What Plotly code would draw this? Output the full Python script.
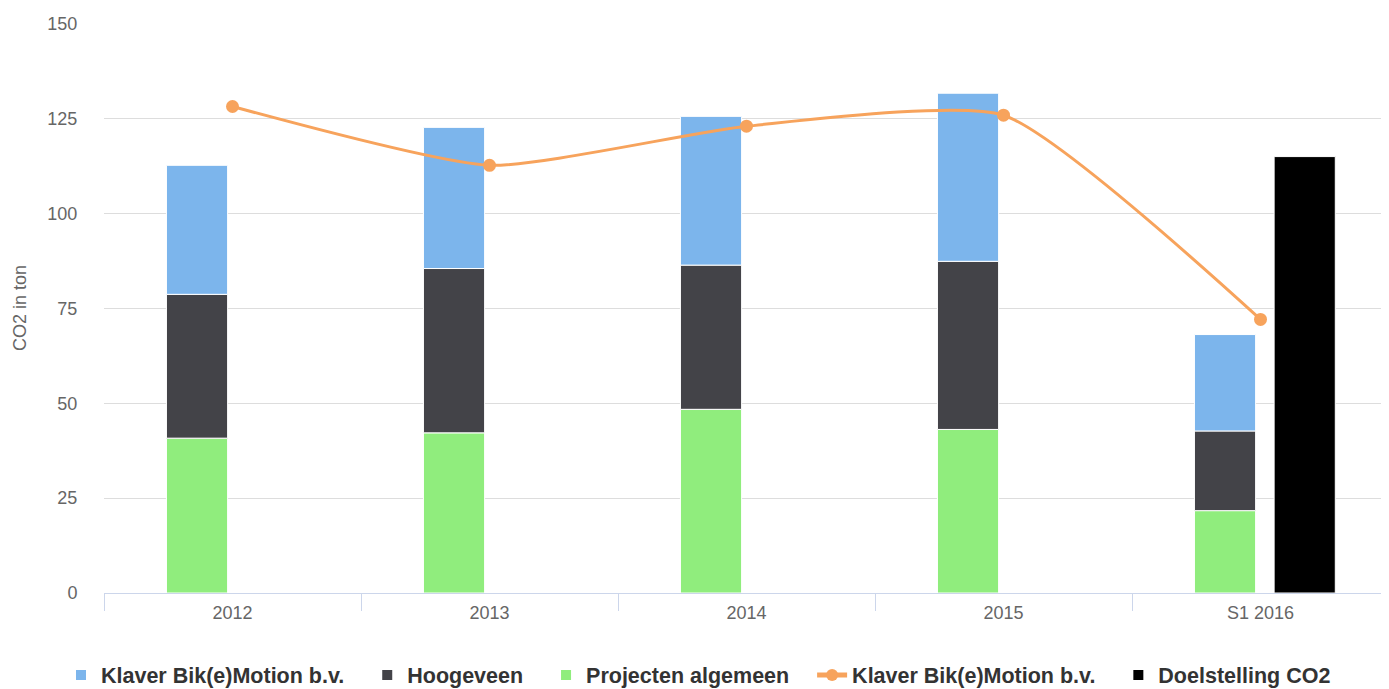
import plotly.graph_objects as go

categories = ["2012", "2013", "2014", "2015", "S1 2016"]
klaver = [34.0, 37.2, 39.2, 44.3, 25.4]
hoogeveen = [37.9, 43.3, 38.0, 44.3, 21.0]
projecten = [40.8, 42.2, 48.4, 43.1, 21.7]
klaver_line = [128.2, 112.7, 123.0, 125.9, 72.1]
doelstelling = [None, None, None, None, 115.0]

C_BLUE = "#7cb5ec"
C_DARK = "#434348"
C_GREEN = "#90ed7d"
C_ORANGE = "#f7a35c"
C_BLACK = "#000000"

FONT = "Liberation Sans, Arial, Helvetica, sans-serif"
PAD = "\u00a0" * 3

bar_w = 0.238
stack_off = -0.257
doel_off = 0.053

fig = go.Figure()

fig.add_trace(go.Bar(x=categories, y=projecten, name="Projecten algemeen" + PAD,
                     marker=dict(color=C_GREEN, line=dict(color="#ffffff", width=1)),
                     width=bar_w, offset=stack_off, legendrank=3))
fig.add_trace(go.Bar(x=categories, y=hoogeveen, name="Hoogeveen" + PAD,
                     marker=dict(color=C_DARK, line=dict(color="#ffffff", width=1)),
                     width=bar_w, offset=stack_off, legendrank=2))
fig.add_trace(go.Bar(x=categories, y=klaver, name="Klaver Bik(e)Motion b.v." + PAD,
                     marker=dict(color=C_BLUE, line=dict(color="#ffffff", width=1)),
                     width=bar_w, offset=stack_off, legendrank=1))
fig.add_trace(go.Bar(x=categories, y=doelstelling, name="Doelstelling CO2",
                     marker=dict(color=C_BLACK, line=dict(color="#ffffff", width=1)),
                     width=bar_w, offset=doel_off, xaxis="x2", legendrank=5))
fig.add_trace(go.Scatter(x=categories, y=klaver_line, name="Klaver Bik(e)Motion b.v." + PAD,
                         mode="lines+markers",
                         line=dict(color=C_ORANGE, width=3, shape="spline", smoothing=0.55),
                         marker=dict(color=C_ORANGE, size=13, symbol="circle"),
                         legendrank=4))

fig.update_layout(
    width=1381, height=681,
    barmode="relative",
    paper_bgcolor="#ffffff", plot_bgcolor="#ffffff",
    margin=dict(l=96, r=0, t=15, b=96, autoexpand=False),
    font=dict(family=FONT, size=18, color="#666666"),
    showlegend=True,
    legend=dict(orientation="h", xref="container", x=0.5, xanchor="center",
                y=-0.108, yanchor="top",
                font=dict(family=FONT, size=21.5, color="#333333", weight="bold"),
                traceorder="normal", itemwidth=30, itemsizing="constant"),
    xaxis=dict(type="category", categoryorder="array", categoryarray=categories,
               range=[-0.5, 4.5], showgrid=False, showline=True, linecolor="#ccd6eb",
               linewidth=1, ticks="outside", tickson="boundaries", ticklen=17,
               tickcolor="#ccd6eb", tickfont=dict(size=18, color="#666666"),
               ticklabelstandoff=3, zeroline=False, automargin=False),
    xaxis2=dict(type="category", categoryorder="array", categoryarray=categories,
                range=[-0.5, 4.5], overlaying="x", matches="x", visible=False),
    yaxis=dict(range=[0, 150.2], tickvals=[0, 25, 50, 75, 100, 125, 150],
               showgrid=True, gridcolor="#dddddd", gridwidth=1, zeroline=False,
               showline=False, ticks="outside", ticklen=22, tickcolor="rgba(0,0,0,0)",
               tickfont=dict(size=18, color="#666666"), automargin=False,
               title=dict(text="CO2 in ton", font=dict(size=18, color="#666666"), standoff=16)),
)

fig.write_html("out.html")
